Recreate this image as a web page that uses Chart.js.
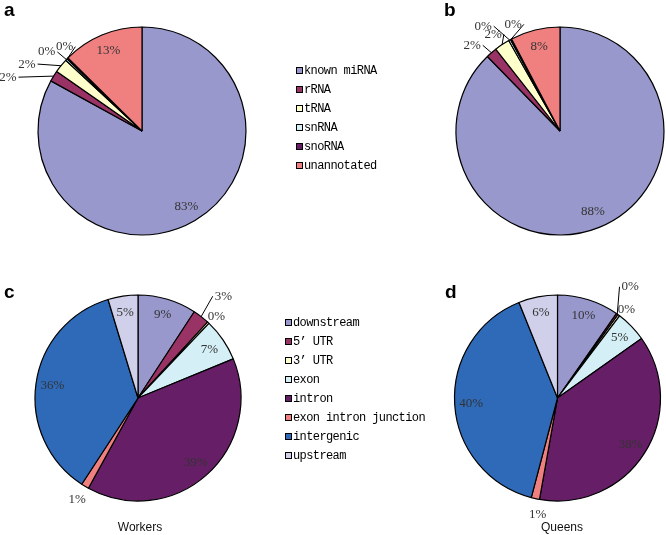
<!DOCTYPE html>
<html>
<head>
<meta charset="utf-8">
<script src="https://cdn.jsdelivr.net/npm/chart.js@4"></script>
<style>
  html, body { margin:0; padding:0; background:#fff; }
  #wrap { position:relative; width:666px; height:535px; overflow:hidden; }
  canvas { position:absolute; left:0; top:0; }
  .tag { position:absolute; font:bold 19px "Liberation Sans", Arial, sans-serif; color:#000; line-height:19px; }
  .cap { position:absolute; font:12px "Liberation Sans", Arial, sans-serif; color:#111; transform:translateX(-50%); white-space:nowrap; }
  .leg { position:absolute; font:12px "Liberation Mono", monospace; letter-spacing:-0.6px; color:#000; white-space:nowrap; line-height:14px; }
  .leg i { position:absolute; width:7px; height:7px; box-sizing:border-box; border:1px solid #000; left:0; top:3px; }
</style>
</head>
<body>
<div id="wrap">
  <canvas id="pieA" width="666" height="535"></canvas>
  <canvas id="pieB" width="666" height="535"></canvas>
  <canvas id="pieC" width="666" height="535"></canvas>
  <canvas id="pieD" width="666" height="535"></canvas>
  <div class="tag" style="left:4px;top:0px">a</div>
  <div class="tag" style="left:444px;top:0px">b</div>
  <div class="tag" style="left:4px;top:282px">c</div>
  <div class="tag" style="left:445px;top:282px">d</div>
  <div class="cap" style="left:140px;top:520px">Workers</div>
  <div class="cap" style="left:562px;top:520px">Queens</div>
  <div id="legRNA"></div>
  <div id="legRegion"></div>
</div>
<script>
// small RNA classes (panels a, b)
const rnaCategories = ['known miRNA','rRNA','tRNA','snRNA','snoRNA','unannotated'];
const workersRNA = [83.0, 1.7, 2.2, 0.3, 0.2, 12.6];
const queensRNA  = [87.7, 1.7, 2.4, 0.3, 0.2, 7.7];
const rnaColors = ['#9898cc','#993366','#ffffcc','#d4f0f6','#661f66','#f08080'];

// genomic regions (panels c, d)
const regionCategories = ['downstream','5\u2019 UTR','3\u2019 UTR','exon','intron','exon intron junction','intergenic','upstream'];
const workersRegion = [9.2, 2.6, 0.3, 6.7, 39.2, 1.2, 36.1, 4.7];
const queensRegion  = [9.7, 0.3, 0.3, 4.9, 37.6, 1.3, 39.8, 6.1];
const regionColors = ['#9898cc','#993366','#ffffcc','#d4f0f6','#661f66','#f08080','#2e6ab8','#d0d0ea'];

const W = 666, H = 535;

// labels drawn on each slice; outside ones: shift in degrees, radius factor, leader line
const pctLabels = {
  id: 'pctLabels',
  afterDatasetsDraw(chart, args, opts){
    const ctx = chart.ctx;
    const meta = chart.getDatasetMeta(0);
    const data = chart.data.datasets[0].data;
    const outside = opts.outside || {};
    ctx.save();
    ctx.font = '13px "Liberation Serif", "Times New Roman", serif';
    ctx.fillStyle = '#333';
    ctx.strokeStyle = '#000';
    ctx.lineWidth = 1;
    ctx.textAlign = 'center';
    ctx.textBaseline = 'middle';
    meta.data.forEach((arc, i) => {
      const txt = Math.round(data[i]) + '%';
      const r = arc.outerRadius;
      const mid = (arc.startAngle + arc.endAngle) / 2;
      const o = outside[i];
      if(!o){
        ctx.fillText(txt, arc.x + Math.cos(mid)*r*0.84, arc.y + Math.sin(mid)*r*0.84);
        return;
      }
      const a = mid + o.shift*Math.PI/180;
      const lx = arc.x + Math.cos(a)*r*o.k;
      const ly = arc.y + Math.sin(a)*r*o.k;
      ctx.fillText(txt, lx, ly);
      if(o.line){
        const w = ctx.measureText(txt).width;
        const ex = lx < arc.x ? lx + w/2 + 2 : lx - w/2 - 2;
        ctx.beginPath();
        ctx.moveTo(arc.x + Math.cos(mid)*r, arc.y + Math.sin(mid)*r);
        ctx.lineTo(ex, ly);
        ctx.stroke();
      }
    });
    ctx.restore();
  }
};

function makePie(id, cx, cy, R, cats, values, colors, outside){
  new Chart(document.getElementById(id), {
    type: 'pie',
    data: { labels: cats, datasets: [{ data: values, backgroundColor: colors, borderColor: '#000', borderWidth: 1.2 }] },
    options: {
      responsive: false,
      animation: false,
      events: [],
      layout: { padding: {
        left: cx - R - 0.6, top: cy - R - 0.6,
        right: W - (cx + R + 0.6), bottom: H - (cy + R + 0.6)
      }},
      plugins: { legend: { display:false }, tooltip: { enabled:false }, pctLabels: { outside } }
    },
    plugins: [pctLabels]
  });
}

makePie('pieA', 142, 131, 104, rnaCategories, workersRNA, rnaColors, {
  1: {shift:-10, k:1.39, line:true},
  2: {shift:-8.7, k:1.28, line:true},
  3: {shift:-3.7, k:1.19, line:true},
  4: {shift:3.2, k:1.1, line:true}
});
makePie('pieB', 560, 131, 104, rnaCategories, queensRNA, rnaColors, {
  1: {shift:-4.5, k:1.18, line:true},
  2: {shift:-0.8, k:1.13, line:true},
  3: {shift:-7.3, k:1.25, line:true},
  4: {shift:4.4, k:1.12, line:true}
});
makePie('pieC', 138, 398, 103, regionCategories, workersRegion, regionColors, {
  1: {shift:2.2, k:1.29, line:true},
  2: {shift:0.8, k:1.1, line:false},
  5: {shift:0, k:1.15, line:false}
});
makePie('pieD', 557.5, 398, 103, regionCategories, queensRegion, regionColors, {
  1: {shift:-2.3, k:1.29, line:true},
  2: {shift:1.3, k:1.09, line:false},
  5: {shift:-2.8, k:1.15, line:false}
});

function buildLegend(elId, cats, colors, x, y0){
  const host = document.getElementById(elId);
  cats.forEach((c, i) => {
    const row = document.createElement('div');
    row.className = 'leg';
    row.style.left = x + 'px';
    row.style.top = (y0 + i*19 - 7) + 'px';
    row.style.paddingLeft = '8px';
    const box = document.createElement('i');
    box.style.background = colors[i];
    row.appendChild(box);
    row.appendChild(document.createTextNode(c));
    host.appendChild(row);
  });
}
buildLegend('legRNA', rnaCategories, rnaColors, 296, 70.5);
buildLegend('legRegion', regionCategories, regionColors, 285, 322.5);
</script>
</body>
</html>
